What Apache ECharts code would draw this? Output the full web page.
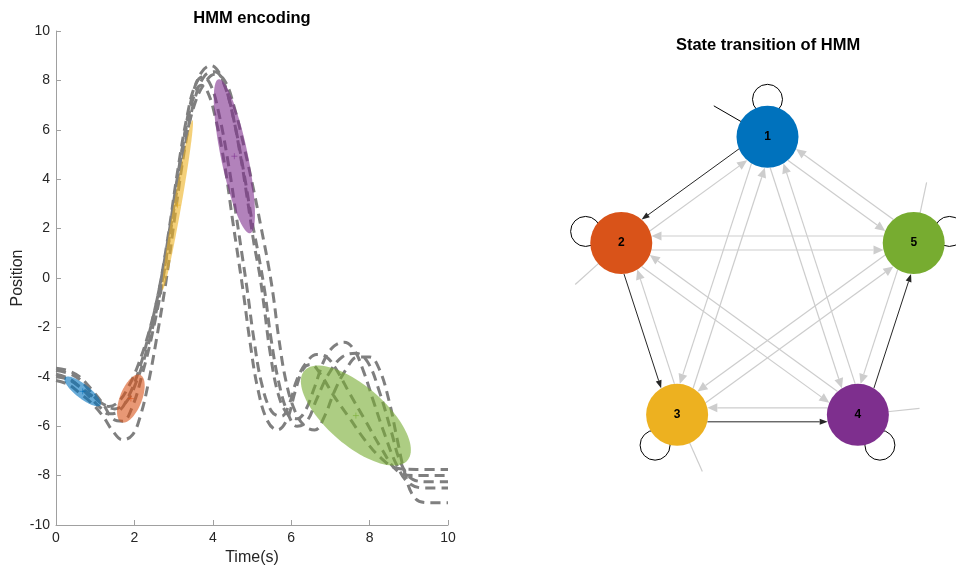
<!DOCTYPE html>
<html>
<head>
<meta charset="utf-8">
<script src="https://cdn.jsdelivr.net/npm/echarts@6/dist/echarts.min.js"></script>
<style>
  html, body { margin: 0; padding: 0; background: #fff; }
  #chart { width: 956px; height: 568px; }
</style>
</head>
<body>
<div id="chart"></div>
<script>
// ---- Demonstrations: [time (s), position] ----
const demo1 = [[0,-3.75],[0.3,-3.85],[0.6,-4.1],[0.85,-4.55],[1.1,-5.0],[1.35,-5.2],[1.6,-5.0],[1.85,-4.4],[2.1,-3.5],[2.35,-2.3],[2.6,-0.7],[2.85,1.5],[3.1,4.1],[3.35,6.3],[3.55,7.5],[3.7,7.8],[3.85,7.6],[4.05,6.6],[4.3,4.6],[4.5,2.4],[4.65,0.8],[4.78,-0.6],[4.95,-2.6],[5.15,-4.5],[5.4,-5.8],[5.65,-6.15],[5.9,-5.7],[6.1,-4.6],[6.3,-3.7],[6.5,-3.5],[6.75,-3.9],[7.1,-4.8],[7.5,-5.7],[7.9,-6.6],[8.3,-7.3],[8.7,-7.7],[9.2,-7.75],[10,-7.75]];
const demo2 = [[0,-3.9],[0.3,-4.05],[0.6,-4.4],[0.85,-4.8],[1.1,-5.2],[1.35,-5.5],[1.6,-5.4],[1.85,-4.8],[2.1,-3.8],[2.35,-2.4],[2.6,-0.7],[2.85,1.6],[3.1,4.3],[3.35,6.6],[3.55,7.8],[3.75,8.15],[3.95,7.8],[4.15,6.7],[4.4,4.6],[4.6,2.5],[4.75,0.9],[4.88,-0.5],[5.05,-2.5],[5.25,-4.3],[5.5,-5.4],[5.75,-5.6],[5.95,-5.1],[6.15,-4.1],[6.4,-3.4],[6.65,-3.1],[6.9,-3.2],[7.15,-3.7],[7.5,-4.7],[7.9,-5.8],[8.3,-6.9],[8.7,-7.8],[9.1,-8.0],[10,-8.0]];
const demo3 = [[0,-3.65],[0.3,-3.75],[0.6,-4.0],[0.9,-4.5],[1.2,-5.1],[1.45,-5.7],[1.7,-5.8],[1.95,-5.2],[2.2,-3.9],[2.45,-2.3],[2.7,-0.3],[2.95,2.3],[3.2,5.0],[3.45,7.2],[3.7,8.3],[3.95,8.6],[4.2,8.2],[4.45,7.0],[4.7,5.0],[4.9,3.0],[5.05,1.4],[5.2,0.1],[5.32,-1.3],[5.47,-3.1],[5.67,-4.7],[5.9,-5.5],[6.15,-5.7],[6.35,-5.4],[6.6,-4.4],[6.85,-3.3],[7.1,-2.75],[7.35,-2.6],[7.6,-2.9],[7.85,-3.8],[8.1,-5.0],[8.4,-6.4],[8.7,-7.6],[9.0,-8.3],[9.4,-8.5],[10,-8.5]];
const demo4 = [[0,-4.15],[0.3,-4.3],[0.6,-4.65],[0.9,-5.05],[1.2,-5.6],[1.45,-6.2],[1.7,-6.55],[1.95,-6.35],[2.15,-5.6],[2.35,-4.3],[2.55,-2.6],[2.8,-0.2],[3.05,2.7],[3.3,5.4],[3.55,7.3],[3.8,8.2],[4.05,8.35],[4.3,7.8],[4.55,6.3],[4.8,4.2],[5.0,2.3],[5.17,0.9],[5.33,-0.6],[5.48,-2.4],[5.68,-4.2],[5.92,-5.5],[6.15,-6.0],[6.4,-5.8],[6.65,-4.9],[6.95,-3.9],[7.3,-3.2],[7.65,-3.05],[7.95,-3.4],[8.25,-4.6],[8.55,-6.2],[8.8,-7.5],[9.1,-8.15],[9.5,-8.25],[10,-8.25]];
const demo5 = [[0,-4.0],[0.3,-4.1],[0.6,-4.4],[0.9,-4.75],[1.2,-5.1],[1.5,-5.3],[1.8,-5.0],[2.05,-4.2],[2.3,-3.0],[2.55,-1.4],[2.8,0.7],[3.05,3.2],[3.3,5.5],[3.55,7.1],[3.8,7.9],[4.05,8.25],[4.3,8.0],[4.55,6.9],[4.8,5.3],[5.05,3.5],[5.25,1.9],[5.42,0.5],[5.55,-0.8],[5.68,-2.4],[5.87,-4.2],[6.1,-5.4],[6.35,-6.0],[6.6,-6.15],[6.85,-5.6],[7.1,-4.6],[7.4,-3.7],[7.7,-3.2],[8.0,-3.2],[8.25,-3.7],[8.5,-5.0],[8.7,-6.5],[8.9,-7.9],[9.15,-8.9],[9.5,-9.1],[10,-9.1]];
const demos = [demo1, demo2, demo3, demo4, demo5];

// ---- HMM states: Gaussian means and covariances [sxx, sxy, syy] ----
const stateNames = ['1', '2', '3', '4', '5'];
const stateMeans = [[0.68, -4.59], [1.91, -4.88], [3.10, 2.95], [4.55, 4.93], [7.65, -5.57]];
const stateCovs = [[0.2166, -0.2289, 0.3642], [0.1244, 0.1852, 0.9515], [0.1555, 1.3140, 11.840], [0.2763, -1.2193, 9.7294], [1.969, -1.947, 4.098]];

// ---- Transition structure ----
const mainTransitions = [[1, 2], [2, 3], [3, 4], [4, 5]];
const otherTransitions = [[1, 3], [1, 4], [1, 5], [2, 1], [2, 4], [2, 5], [3, 1], [3, 2], [3, 5], [4, 1], [4, 2], [4, 3], [5, 1], [5, 2], [5, 3], [5, 4]];
const selfTransitions = [1, 2, 3, 4, 5];
const initialState = 1;

// ---- Axis ticks ----
const timeTicks = [0, 2, 4, 6, 8, 10];
const positionTicks = [-10, -8, -6, -4, -2, 0, 2, 4, 6, 8, 10];

// ---- Styling ----
const stateColors = ['#0072BD', '#D95319', '#EDB120', '#7E2F8E', '#77AC30'];
const FONT = '"Liberation Sans", Arial, Helvetica, sans-serif';
const TEXT_COLOR = '#262626';
const AXIS_COLOR = '#a0a0a0';
const NODE_R = 31;

// Node placement: regular pentagon, state 1 on top
const nodePos = stateNames.map((_, k) => {
  const a = (90 + 72 * k) * Math.PI / 180;
  return [Math.cos(a), Math.sin(a)];
});

function hexToRgba(hex, a) {
  const n = parseInt(hex.slice(1), 16);
  return 'rgba(' + (n >> 16) + ',' + ((n >> 8) & 255) + ',' + (n & 255) + ',' + a + ')';
}

// 1-sigma contour of each Gaussian
function renderEllipse(params, api) {
  const k = api.value(2);
  const m = stateMeans[k];
  const c = stateCovs[k];
  const a = Math.sqrt(c[0]);
  const b = c[1] / a;
  const d = Math.sqrt(c[2] - b * b);
  const pts = [];
  for (let i = 0; i < 96; i++) {
    const t = i / 96 * Math.PI * 2;
    pts.push(api.coord([m[0] + a * Math.cos(t), m[1] + b * Math.cos(t) + d * Math.sin(t)]));
  }
  const ctr = api.coord(m);
  return {
    type: 'group',
    children: [
      { type: 'polygon', shape: { points: pts }, style: { fill: hexToRgba(stateColors[k], 0.6), stroke: null } },
      { type: 'line', shape: { x1: ctr[0] - 3, y1: ctr[1], x2: ctr[0] + 3, y2: ctr[1] }, style: { stroke: hexToRgba(stateColors[k], 0.7), lineWidth: 0.8 } },
      { type: 'line', shape: { x1: ctr[0], y1: ctr[1] - 3, x2: ctr[0], y2: ctr[1] + 3 }, style: { stroke: hexToRgba(stateColors[k], 0.7), lineWidth: 0.8 } }
    ]
  };
}

// Directed transition: parallel offset line ending in an arrowhead at the target node
function renderEdge(params, api) {
  const from = api.value(0) - 1, to = api.value(1) - 1, strong = api.value(2) === 1;
  const p = api.coord(nodePos[from]), q = api.coord(nodePos[to]);
  const dx = q[0] - p[0], dy = q[1] - p[1];
  const len = Math.hypot(dx, dy);
  const ux = dx / len, uy = dy / len;
  const nx = -uy, ny = ux;
  const off = 7;
  const s = Math.sqrt(NODE_R * NODE_R - off * off);
  const x1 = p[0] + nx * off + ux * s, y1 = p[1] + ny * off + uy * s;
  const x2 = q[0] + nx * off - ux * s, y2 = q[1] + ny * off - uy * s;
  const color = strong ? '#262626' : '#cdcdcd';
  const al = strong ? 8 : 10, aw = strong ? 3 : 4.5;
  const bx = x2 - ux * al, by = y2 - uy * al;
  return {
    type: 'group',
    children: [
      { type: 'line', shape: { x1: x1, y1: y1, x2: bx, y2: by }, style: { stroke: color, lineWidth: strong ? 1 : 1.2 } },
      { type: 'polygon', shape: { points: [[x2, y2], [bx + nx * aw, by + ny * aw], [bx - nx * aw, by - ny * aw]] }, style: { fill: color } }
    ]
  };
}

// Self transitions (loops) and initial-state arrows
function renderSelf(params, api) {
  const k = api.value(0) - 1;
  const c = api.coord(nodePos[k]);
  const a = (90 + 72 * k) * Math.PI / 180;
  const ox = Math.cos(a), oy = -Math.sin(a);
  const b = a + Math.PI / 3;
  const ix = Math.cos(b), iy = -Math.sin(b);
  const isInit = (k + 1) === initialState;
  return {
    type: 'group',
    children: [
      { type: 'circle', shape: { cx: c[0] + ox * 37.5, cy: c[1] + oy * 37.5, r: 15 }, style: { fill: null, stroke: '#000', lineWidth: 1 } },
      { type: 'line', shape: { x1: c[0] + ix * 62, y1: c[1] + iy * 62, x2: c[0] + ix * 20, y2: c[1] + iy * 20 },
        style: { stroke: isInit ? '#000' : '#cdcdcd', lineWidth: isInit ? 1 : 1.2 } }
    ]
  };
}

const chart = echarts.init(document.getElementById('chart'), null, { renderer: 'canvas' });

const demoSeries = demos.map((d, i) => ({
  type: 'line',
  name: 'demo' + (i + 1),
  xAxisIndex: 0,
  yAxisIndex: 0,
  data: d,
  smooth: 0.4,
  symbol: 'none',
  silent: true,
  z: 2,
  lineStyle: { color: '#7f7f7f', width: 3, type: [10, 6], cap: 'butt' }
}));

const edgeData = mainTransitions.map(t => [t[0], t[1], 1])
  .concat(otherTransitions.map(t => [t[0], t[1], 0]));

chart.setOption({
  animation: false,
  backgroundColor: '#fff',
  textStyle: { fontFamily: FONT },
  graphic: [
    { type: 'text', x: 252, y: 18, style: { text: 'HMM encoding', font: 'bold 16.5px ' + FONT, fill: '#000', align: 'center', verticalAlign: 'middle' } },
    { type: 'text', x: 768, y: 45, style: { text: 'State transition of HMM', font: 'bold 16.5px ' + FONT, fill: '#000', align: 'center', verticalAlign: 'middle' } }
  ],
  grid: [
    { left: 56, top: 31, width: 392, height: 494, outerBoundsMode: 'none', containLabel: false },
    { left: 583, top: 60, width: 369, height: 461, outerBoundsMode: 'none', containLabel: false }
  ],
  xAxis: [
    {
      gridIndex: 0, type: 'value',
      min: timeTicks[0], max: timeTicks[timeTicks.length - 1], interval: timeTicks[1] - timeTicks[0],
      name: 'Time(s)', nameLocation: 'middle', nameGap: 15,
      nameTextStyle: { fontSize: 16, color: TEXT_COLOR, fontFamily: FONT },
      axisLine: { show: true, onZero: false, lineStyle: { color: AXIS_COLOR, width: 1 } },
      axisTick: { show: true, inside: true, length: 5, lineStyle: { color: AXIS_COLOR } },
      axisLabel: { fontSize: 14, color: TEXT_COLOR, margin: 6, fontFamily: FONT },
      splitLine: { show: false }
    },
    { gridIndex: 1, type: 'value', min: -1.2, max: 1.2, show: false }
  ],
  yAxis: [
    {
      gridIndex: 0, type: 'value',
      min: positionTicks[0], max: positionTicks[positionTicks.length - 1], interval: positionTicks[1] - positionTicks[0],
      name: 'Position', nameLocation: 'middle', nameGap: 30,
      nameTextStyle: { fontSize: 16, color: TEXT_COLOR, fontFamily: FONT },
      axisLine: { show: true, onZero: false, lineStyle: { color: AXIS_COLOR, width: 1 } },
      axisTick: { show: true, inside: true, length: 5, lineStyle: { color: AXIS_COLOR } },
      axisLabel: { fontSize: 14, color: TEXT_COLOR, margin: 6, fontFamily: FONT },
      splitLine: { show: false }
    },
    { gridIndex: 1, type: 'value', min: -1.5, max: 1.5, show: false }
  ],
  series: demoSeries.concat([
    {
      type: 'custom',
      name: 'states',
      xAxisIndex: 0, yAxisIndex: 0,
      silent: true,
      z: 3,
      data: stateMeans.map((m, k) => [m[0], m[1], k]),
      renderItem: renderEllipse
    },
    {
      type: 'custom',
      name: 'self',
      xAxisIndex: 1, yAxisIndex: 1,
      silent: true,
      z: 2,
      data: selfTransitions.map(s => [s, 0]),
      renderItem: renderSelf
    },
    {
      type: 'custom',
      name: 'transitions',
      xAxisIndex: 1, yAxisIndex: 1,
      silent: true,
      z: 2,
      data: edgeData,
      renderItem: renderEdge
    },
    {
      type: 'scatter',
      name: 'nodes',
      xAxisIndex: 1, yAxisIndex: 1,
      silent: true,
      z: 4,
      symbol: 'circle',
      symbolSize: NODE_R * 2,
      data: nodePos.map((p, k) => ({
        name: stateNames[k],
        value: p,
        itemStyle: { color: stateColors[k], opacity: 1 }
      })),
      label: {
        show: true, position: 'inside', formatter: '{b}',
        fontSize: 12, fontWeight: 'bold', color: '#000', fontFamily: FONT
      }
    }
  ])
});
</script>
</body>
</html>
